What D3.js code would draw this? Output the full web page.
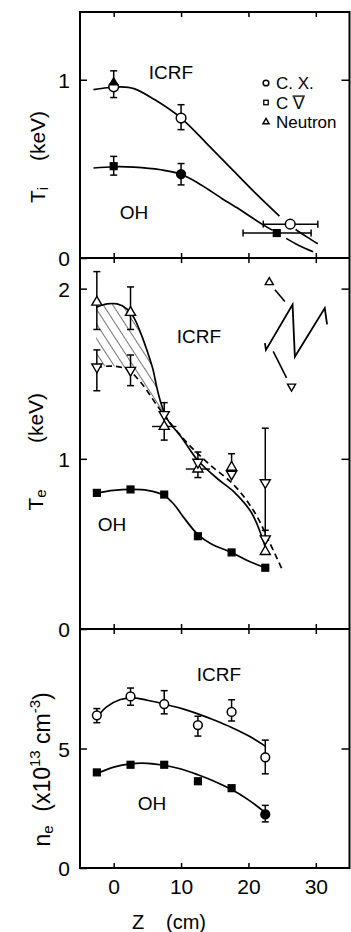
<!DOCTYPE html>
<html><head><meta charset="utf-8">
<script src="https://cdn.jsdelivr.net/npm/d3@7"></script>
<style>
html,body{margin:0;padding:0;background:#fff;}
svg{display:block;}
text{font-family:"Liberation Sans","Helvetica",Arial,sans-serif;fill:#000;}
</style></head><body>
<svg id="chart" width="351" height="932"></svg>
<script>
// ---------- shared axis ----------
const zTicks = [0, 10, 20, 30];

// ---------- ion temperature Ti (keV) ----------
const tiTicks = [0, 1];
// charge-exchange, ICRF
const tiCxZ = [0, 10, 26.2];
const tiCx = [0.96, 0.785, 0.19];
const tiCxLo = [0.90, 0.72, 0.175];
const tiCxHi = [1.05, 0.86, 0.205];
const tiCxZLo = [null, null, 22.2];
const tiCxZHi = [null, null, 30.3];
// neutron, ICRF
const tiNeutZ = [0];
const tiNeut = [0.985];
// ohmic
const tiOhZ = [0, 10, 24.2];
const tiOh = [0.515, 0.47, 0.14];
const tiOhLo = [0.465, 0.41, 0.125];
const tiOhHi = [0.57, 0.53, 0.155];
const tiOhZLo = [null, null, 19.2];
const tiOhZHi = [null, null, 29.3];
const tiOhKind = ["square", "circle", "square"];
// fitted profiles
const tiIcrfFitZ = [-3, -1, 1, 3, 6, 10, 14, 17.5, 21, 24.6];
const tiIcrfFit = [0.945, 0.955, 0.96, 0.95, 0.89, 0.785, 0.635, 0.50, 0.365, 0.235];
const tiIcrfTailZ = [27.0, 28.6, 30.3];
const tiIcrfTail = [0.16, 0.12, 0.08];
const tiOhFitZ = [-3, 0, 3, 7, 10, 13, 16, 19, 22, 23.6];
const tiOhFit = [0.505, 0.512, 0.51, 0.495, 0.47, 0.41, 0.335, 0.265, 0.19, 0.155];
const tiOhTailZ = [25.6, 27.5, 29.6];
const tiOhTail = [0.11, 0.07, 0.035];

// ---------- electron temperature Te (keV) ----------
const teTicks = [0, 1, 2];
const teZ = [-2.5, 2.5, 7.5, 12.5, 17.5, 22.5];
const teOh = [0.80, 0.82, 0.79, 0.545, 0.45, 0.36];
const teOhFitZ = [-2.5, 0, 2.5, 5, 7.5, 9, 10.5, 12.5, 14.5, 17.5, 20, 22.5];
const teOhFit = [0.80, 0.815, 0.82, 0.815, 0.785, 0.73, 0.65, 0.555, 0.50, 0.45, 0.40, 0.36];
// before sawtooth crash (up triangles)
const tePeak = [1.92, 1.86, 1.19, 0.94, 0.95, 0.455];
const tePeakLo = [1.76, 1.76, 1.11, 0.89, 0.95, 0.455];
const tePeakHi = [2.10, 2.01, 1.19, 0.94, 1.03, 0.455];
const tePeakZErr = [0, 0, 1.8, 1.8, 0, 0];
// after sawtooth crash (down triangles)
const teTrough = [1.54, 1.52, 1.26, 0.98, 0.91, 0.53];
const teTroughLo = [1.40, 1.43, 1.26, 0.98, 0.91, 0.53];
const teTroughHi = [1.64, 1.61, 1.33, 1.04, 0.91, 0.58];
const teExtraZ = [22.5];
const teExtra = [0.86];
const teExtraLo = [0.53];
const teExtraHi = [1.18];
// fitted profiles
const tePeakFitZ = [-2.6, -1, 0.5, 2, 3, 4, 5, 5.8, 6.4, 7, 8, 10, 12.5, 15.5, 18, 20.5, 22.6];
const tePeakFit = [1.89, 1.91, 1.91, 1.88, 1.83, 1.74, 1.63, 1.53, 1.42, 1.33, 1.23, 1.13, 0.99, 0.88, 0.80, 0.68, 0.47];
const teTroughFitZ = [-2.6, -0.5, 2, 4, 6.5, 8, 11, 14, 18, 21, 23, 25];
const teTroughFit = [1.535, 1.545, 1.525, 1.45, 1.31, 1.23, 1.09, 0.975, 0.84, 0.68, 0.52, 0.35];
const teHatchEnd = 8;
// sawtooth sketch
const sawZ = [22.45, 22.6, 26.55, 26.89, 31.33, 31.67];
const sawTe = [1.68, 1.64, 1.906, 1.60, 1.886, 1.79];
const sawPeakMark = [23.09, 2.037];
const sawTroughMark = [26.4, 1.425];
const sawArrowTopZ = [23.93, 25.41];
const sawArrowTop = [1.994, 1.925];
const sawArrowBotZ = [25.66, 23.68];
const sawArrowBot = [1.475, 1.631];

// ---------- electron density ne (1e13 cm^-3) ----------
const neTicks = [0, 5];
const neIcrf = [6.39, 7.18, 6.86, 5.98, 6.53, 4.63];
const neIcrfLo = [6.08, 6.81, 6.45, 5.52, 6.15, 3.94];
const neIcrfHi = [6.67, 7.53, 7.42, 6.35, 7.04, 5.35];
const neOh = [4.0, 4.32, 4.32, 3.63, 3.34, 2.24];
const neOhLo = [4.0, 4.32, 4.32, 3.63, 3.34, 1.93];
const neOhHi = [4.0, 4.32, 4.32, 3.63, 3.34, 2.62];
const neIcrfFitZ = [-2.5, -1, 1, 3, 5, 7.5, 10, 12.5, 15, 17.5, 20, 22.5];
const neIcrfFit = [6.3, 6.75, 7.05, 7.12, 7.02, 6.86, 6.68, 6.45, 6.18, 5.88, 5.53, 5.1];
const neOhFitZ = [-2.5, 0, 2.5, 5, 7.5, 10, 12.5, 15, 17.5, 20, 22.5];
const neOhFit = [3.95, 4.22, 4.36, 4.38, 4.3, 4.14, 3.9, 3.62, 3.28, 2.85, 2.32];

// ---------- layout ----------
const svg = d3.select("#chart");
const ink = "#000";
const x = d3.scaleLinear().domain([-5, 35]).range([80, 349.5]);
const yTi = d3.scaleLinear().domain([0, 1.38]).range([258, 12]);
const yTe = d3.scaleLinear().domain([0, 2.18]).range([629, 258]);
const yNe = d3.scaleLinear().domain([0, 10]).range([868, 629]);

const tickFont = 21;

// axes for each panel
function panelAxes(y, ticks, showX) {
  const [y0, y1] = y.range();
  const gl = svg.append("g").attr("transform", `translate(${x.range()[0]},0)`)
    .call(d3.axisLeft(y).tickValues(ticks).tickSize(-7).tickPadding(10).tickFormat(d3.format("d")));
  const gr = svg.append("g").attr("transform", `translate(${x.range()[1]},0)`)
    .call(d3.axisRight(y).tickValues(ticks.filter(t => t > 0)).tickSize(-8).tickFormat(""));
  const gt = svg.append("g").attr("transform", `translate(0,${y1})`)
    .call(d3.axisTop(x).tickValues(zTicks).tickSize(-5).tickFormat(""));
  const gb = svg.append("g").attr("transform", `translate(0,${y0})`)
    .call(d3.axisBottom(x).tickValues(zTicks).tickSize(-5).tickPadding(11)
      .tickFormat(showX ? d3.format("d") : ""));
  [gl, gr, gt, gb].forEach(g => {
    g.select(".domain").remove();
    g.selectAll(".tick line").attr("stroke", ink).attr("stroke-width", 1.5);
    g.selectAll(".tick text").attr("font-size", tickFont).attr("fill", ink)
      .attr("font-family", "Liberation Sans, Arial, sans-serif");
  });
  gl.selectAll(".tick text").attr("dy", "0.36em");
}
panelAxes(yTi, tiTicks, false);
panelAxes(yTe, teTicks, false);
panelAxes(yNe, neTicks, true);

// frame
const fr = svg.append("g").attr("stroke", ink).attr("stroke-width", 2).attr("fill", "none");
fr.append("rect").attr("x", x.range()[0]).attr("y", yTi.range()[1])
  .attr("width", x.range()[1] - x.range()[0]).attr("height", yNe.range()[0] - yTi.range()[1]);
fr.append("line").attr("x1", x.range()[0]).attr("x2", x.range()[1]).attr("y1", yTi(0)).attr("y2", yTi(0));
fr.append("line").attr("x1", x.range()[0]).attr("x2", x.range()[1]).attr("y1", yTe(0)).attr("y2", yTe(0));

// ---------- helpers ----------
const curve = d3.curveCatmullRom.alpha(0.5);
function fitLine(y, zs, vs, dash) {
  const pts = zs.map((z, i) => [z, vs[i]]);
  svg.append("path").datum(pts)
    .attr("d", d3.line().x(d => x(d[0])).y(d => y(d[1])).curve(curve))
    .attr("fill", "none").attr("stroke", ink).attr("stroke-width", 1.7)
    .attr("stroke-dasharray", dash || null);
}
function vErr(y, z, v, lo, hi, cap = 3.5) {
  if (lo == null || hi == null || lo === hi) return;
  const g = svg.append("g").attr("stroke", ink).attr("stroke-width", 1.5);
  g.append("line").attr("x1", x(z)).attr("x2", x(z)).attr("y1", y(lo)).attr("y2", y(hi));
  [lo, hi].forEach(e => {
    if (e !== v) g.append("line").attr("x1", x(z) - cap).attr("x2", x(z) + cap).attr("y1", y(e)).attr("y2", y(e));
  });
}
function hErr(y, v, zlo, zhi, cap = 3.5) {
  if (zlo == null || zhi == null) return;
  const g = svg.append("g").attr("stroke", ink).attr("stroke-width", 1.5);
  g.append("line").attr("x1", x(zlo)).attr("x2", x(zhi)).attr("y1", y(v)).attr("y2", y(v));
  [zlo, zhi].forEach(e => g.append("line").attr("x1", x(e)).attr("x2", x(e)).attr("y1", y(v) - cap).attr("y2", y(v) + cap));
}
function marker(px, py, kind, filled, size) {
  const s = size || 1;
  const fill = filled ? ink : "#fff";
  if (kind === "circle") {
    svg.append("circle").attr("cx", px).attr("cy", py).attr("r", 4.6 * s)
      .attr("fill", fill).attr("stroke", ink).attr("stroke-width", 1.5);
  } else if (kind === "square") {
    const h = 3.6 * s;
    svg.append("rect").attr("x", px - h).attr("y", py - h).attr("width", 2 * h).attr("height", 2 * h)
      .attr("fill", fill).attr("stroke", ink).attr("stroke-width", 1.3);
  } else if (kind === "up" || kind === "down") {
    svg.append("path").attr("d", d3.symbol().type(d3.symbolTriangle).size(44 * s * s)())
      .attr("transform", `translate(${px},${py}) rotate(${kind === "down" ? 180 : 0})`)
      .attr("fill", fill).attr("stroke", ink).attr("stroke-width", 1.4);
  }
}
function label(px, py, str, size) {
  svg.append("text").attr("x", px).attr("y", py).attr("text-anchor", "middle")
    .attr("dominant-baseline", "central").attr("font-size", size || 19).text(str);
}

// ---------- Ti panel ----------
fitLine(yTi, tiIcrfFitZ, tiIcrfFit);
fitLine(yTi, tiIcrfTailZ, tiIcrfTail);
fitLine(yTi, tiOhFitZ, tiOhFit);
fitLine(yTi, tiOhTailZ, tiOhTail);
tiCxZ.forEach((z, i) => { vErr(yTi, z, tiCx[i], tiCxLo[i], tiCxHi[i]); hErr(yTi, tiCx[i], tiCxZLo[i], tiCxZHi[i]); });
tiOhZ.forEach((z, i) => { vErr(yTi, z, tiOh[i], tiOhLo[i], tiOhHi[i]); hErr(yTi, tiOh[i], tiOhZLo[i], tiOhZHi[i]); });
tiCxZ.forEach((z, i) => marker(x(z), yTi(tiCx[i]), "circle", false, 1.05));
tiNeutZ.forEach((z, i) => marker(x(z), yTi(tiNeut[i]), "up", true, 0.8));
tiOhZ.forEach((z, i) => marker(x(z), yTi(tiOh[i]), tiOhKind[i], true, 0.95));
label(171, 72, "ICRF");
label(134, 212, "OH");

// legend
const legendKinds = ["circle", "square", "up"];
const legendNames = ["C. X.", "CV", "Neutron"];
legendKinds.forEach((k, i) => {
  const ly = 83 + i * 19.5;
  marker(266, ly, k, false, 0.62);
  const t = svg.append("text").attr("x", 276).attr("y", ly).attr("dominant-baseline", "central")
    .attr("font-size", 17);
  if (legendNames[i] === "CV") {
    // carbon V: roman numeral with a bar over it
    t.append("tspan").text("C ");
    const vSpan = t.append("tspan").text("V");
    const full = t.node().getComputedTextLength();
    const vw = vSpan.node().getComputedTextLength();
    svg.append("line").attr("stroke", ink).attr("stroke-width", 1.3)
      .attr("x1", 276 + full - vw - 0.5).attr("x2", 276 + full + 0.5)
      .attr("y1", ly - 6.4).attr("y2", ly - 6.4);
  } else t.text(legendNames[i]);
});

// ---------- Te panel ----------
// hatched band between the two profiles in the core
const defs = svg.append("defs");
defs.append("pattern").attr("id", "hatch").attr("patternUnits", "userSpaceOnUse")
  .attr("width", 8).attr("height", 10).attr("patternTransform", "rotate(-33)")
  .append("line").attr("x1", 0).attr("x2", 0).attr("y1", 0).attr("y2", 10)
  .attr("stroke", ink).attr("stroke-width", 1.1);
const upPts = tePeakFitZ.map((z, i) => [z, tePeakFit[i]]).filter(d => d[0] <= teHatchEnd);
const dnPts = teTroughFitZ.map((z, i) => [z, teTroughFit[i]]).filter(d => d[0] <= teHatchEnd).reverse();
const lg2 = d3.line().x(d => x(d[0])).y(d => yTe(d[1])).curve(curve);
const bandPath = lg2(upPts) + "L" + lg2(dnPts).slice(1) + "Z";
svg.append("path").attr("d", bandPath).attr("fill", "url(#hatch)").attr("stroke", "none");

fitLine(yTe, tePeakFitZ, tePeakFit);
fitLine(yTe, teTroughFitZ, teTroughFit, "6,4");
fitLine(yTe, teOhFitZ, teOhFit);

teZ.forEach((z, i) => {
  vErr(yTe, z, tePeak[i], tePeakLo[i], tePeakHi[i]);
  if (tePeakZErr[i]) svg.append("line").attr("stroke", ink).attr("stroke-width", 1.4)
    .attr("x1", x(z - tePeakZErr[i])).attr("x2", x(z + tePeakZErr[i]))
    .attr("y1", yTe(tePeak[i])).attr("y2", yTe(tePeak[i]));
  vErr(yTe, z, teTrough[i], teTroughLo[i], teTroughHi[i]);
});
teExtraZ.forEach((z, i) => vErr(yTe, z, teExtra[i], teExtraLo[i], teExtraHi[i]));
teZ.forEach((z, i) => {
  marker(x(z), yTe(teOh[i]), "square", true, 0.95);
  marker(x(z), yTe(tePeak[i]), "up", false);
  marker(x(z), yTe(teTrough[i]), "down", false);
});
teExtraZ.forEach((z, i) => marker(x(z), yTe(teExtra[i]), "down", false));
label(199, 336, "ICRF");
label(112, 524, "OH");

// sawtooth sketch
svg.append("path").datum(sawZ.map((z, i) => [z, sawTe[i]]))
  .attr("d", d3.line().x(d => x(d[0])).y(d => yTe(d[1])))
  .attr("fill", "none").attr("stroke", ink).attr("stroke-width", 1.8).attr("stroke-linejoin", "miter");
[[sawArrowTopZ, sawArrowTop], [sawArrowBotZ, sawArrowBot]].forEach(([zs, vs]) => {
  svg.append("line").attr("stroke", ink).attr("stroke-width", 1.6)
    .attr("x1", x(zs[0])).attr("x2", x(zs[1])).attr("y1", yTe(vs[0])).attr("y2", yTe(vs[1]));
});
marker(x(sawPeakMark[0]), yTe(sawPeakMark[1]), "up", false, 0.8);
marker(x(sawTroughMark[0]), yTe(sawTroughMark[1]), "down", false, 0.8);

// ---------- ne panel ----------
fitLine(yNe, neIcrfFitZ, neIcrfFit);
fitLine(yNe, neOhFitZ, neOhFit);
teZ.forEach((z, i) => {
  vErr(yNe, z, neIcrf[i], neIcrfLo[i], neIcrfHi[i]);
  vErr(yNe, z, neOh[i], neOhLo[i], neOhHi[i]);
});
teZ.forEach((z, i) => {
  marker(x(z), yNe(neIcrf[i]), "circle", false, 0.95);
  marker(x(z), yNe(neOh[i]), i === 5 ? "circle" : "square", true, 0.95);
});
label(219, 674, "ICRF");
label(152, 803, "OH");

// ---------- axis titles ----------
function vtext(px, py, build, size) {
  const t = svg.append("text").attr("transform", `translate(${px},${py}) rotate(-90)`)
    .attr("text-anchor", "middle").attr("font-size", size || 21);
  build(t);
}
const sub = (t, main, s) => { t.append("tspan").text(main); t.append("tspan").attr("font-size", 15).attr("dy", 3).text(s); };
vtext(45, 195, t => sub(t, "T", "i"));
vtext(45, 136, t => t.text("(keV)"));
vtext(43, 500, t => sub(t, "T", "e"));
vtext(43, 418, t => t.text("(keV)"));
vtext(50, 836, t => sub(t, "n", "e"), 23);
vtext(50, 752, t => {
  t.append("tspan").text("(x10");
  t.append("tspan").attr("font-size", 15).attr("dy", -10).text("13");
  t.append("tspan").attr("dy", 10).text(" cm");
  t.append("tspan").attr("font-size", 15).attr("dy", -10).text("-3");
  t.append("tspan").attr("dy", 10).text(")");
}, 23);
svg.append("text").attr("x", 138).attr("y", 929).attr("text-anchor", "middle").attr("font-size", 20).text("Z");
svg.append("text").attr("x", 186).attr("y", 929).attr("text-anchor", "middle").attr("font-size", 20).text("(cm)");
</script>
</body></html>
